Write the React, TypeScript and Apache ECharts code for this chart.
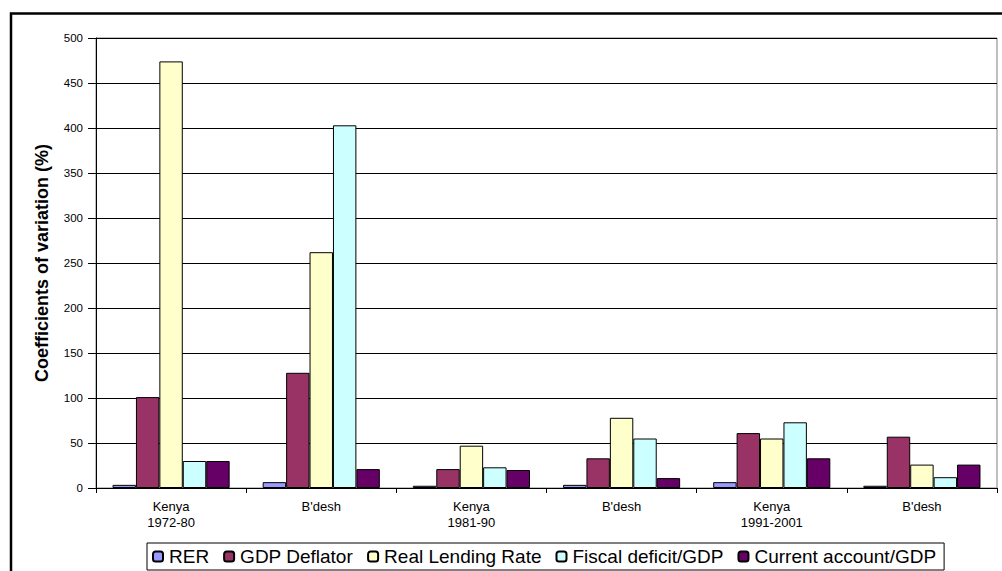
import React, { useEffect, useRef } from "react";
import * as echarts from "echarts";

const categories = ["Kenya\n1972-80", "B'desh", "Kenya\n1981-90", "B'desh", "Kenya\n1991-2001", "B'desh"];
const rer = [3.5, 6.5, 2.5, 3.5, 6.5, 2.5];
const gdpDeflator = [101, 128, 21, 33, 61, 57];
const realLendingRate = [474, 262, 47, 78, 55, 26];
const fiscalDeficit = [30, 403, 23, 55, 73, 12];
const currentAccount = [30, 21, 20, 11, 33, 26];

const seriesDefs = [
  { name: "RER", data: rer, color: "#9999FF" },
  { name: "GDP Deflator", data: gdpDeflator, color: "#993366" },
  { name: "Real Lending Rate", data: realLendingRate, color: "#FFFFCC" },
  { name: "Fiscal deficit/GDP", data: fiscalDeficit, color: "#CCFFFF" },
  { name: "Current account/GDP", data: currentAccount, color: "#660066" },
];

export default function App() {
  const ref = useRef<HTMLDivElement>(null);
  useEffect(() => {
    if (!ref.current) return;
    const chart = echarts.init(ref.current, null, { renderer: "svg" });
    chart.setOption({
      animation: false,
      textStyle: { fontFamily: "Liberation Sans, Arial, sans-serif" },
      grid: {
        left: 96,
        right: 5,
        top: 38,
        bottom: 83,
        show: true,
        borderColor: "#808080",
        borderWidth: 1,
      },
      legend: {
        bottom: 1,
        left: 147,
        itemWidth: 10,
        itemHeight: 10,
        itemGap: 14,
        borderColor: "#000",
        borderWidth: 1,
        padding: [4, 8, 4, 5],
        textStyle: { fontSize: 19, color: "#000", padding: [0, 0, 0, 1] },
        data: seriesDefs.map((s) => s.name),
      },
      xAxis: {
        type: "category",
        data: categories,
        axisLine: { lineStyle: { color: "#000" } },
        axisTick: { show: true, length: 5, lineStyle: { color: "#000" } },
        axisLabel: { fontSize: 13, color: "#000", lineHeight: 16, margin: 10 },
      },
      yAxis: {
        type: "value",
        min: 0,
        max: 500,
        interval: 50,
        name: "Coefficients of variation (%)",
        nameLocation: "middle",
        nameRotate: 90,
        nameGap: 45,
        nameTextStyle: { fontSize: 18, fontWeight: "bold", color: "#000" },
        axisLine: { show: true, lineStyle: { color: "#000" } },
        axisTick: { show: true, length: 8, lineStyle: { color: "#000" } },
        axisLabel: { fontSize: 11.5, color: "#000", margin: 13 },
        splitLine: { show: true, lineStyle: { color: "#000", width: 1 } },
      },
      series: seriesDefs.map((s) => ({
        name: s.name,
        type: "bar",
        data: s.data,
        barGap: "0%",
        barCategoryGap: "22%",
        itemStyle: { color: s.color, borderColor: "#000", borderWidth: 1 },
      })),
      graphic: [
        {
          type: "rect",
          shape: { x: 11, y: 13.5, width: 1100, height: 700 },
          style: { fill: "none", stroke: "#000", lineWidth: 2.5 },
          silent: true,
        },
      ],
    });
    return () => chart.dispose();
  }, []);
  return (
    <div
      ref={ref}
      style={{ position: "fixed", left: 0, top: 0, width: 1002, height: 571, background: "#fff" }}
    />
  );
}
